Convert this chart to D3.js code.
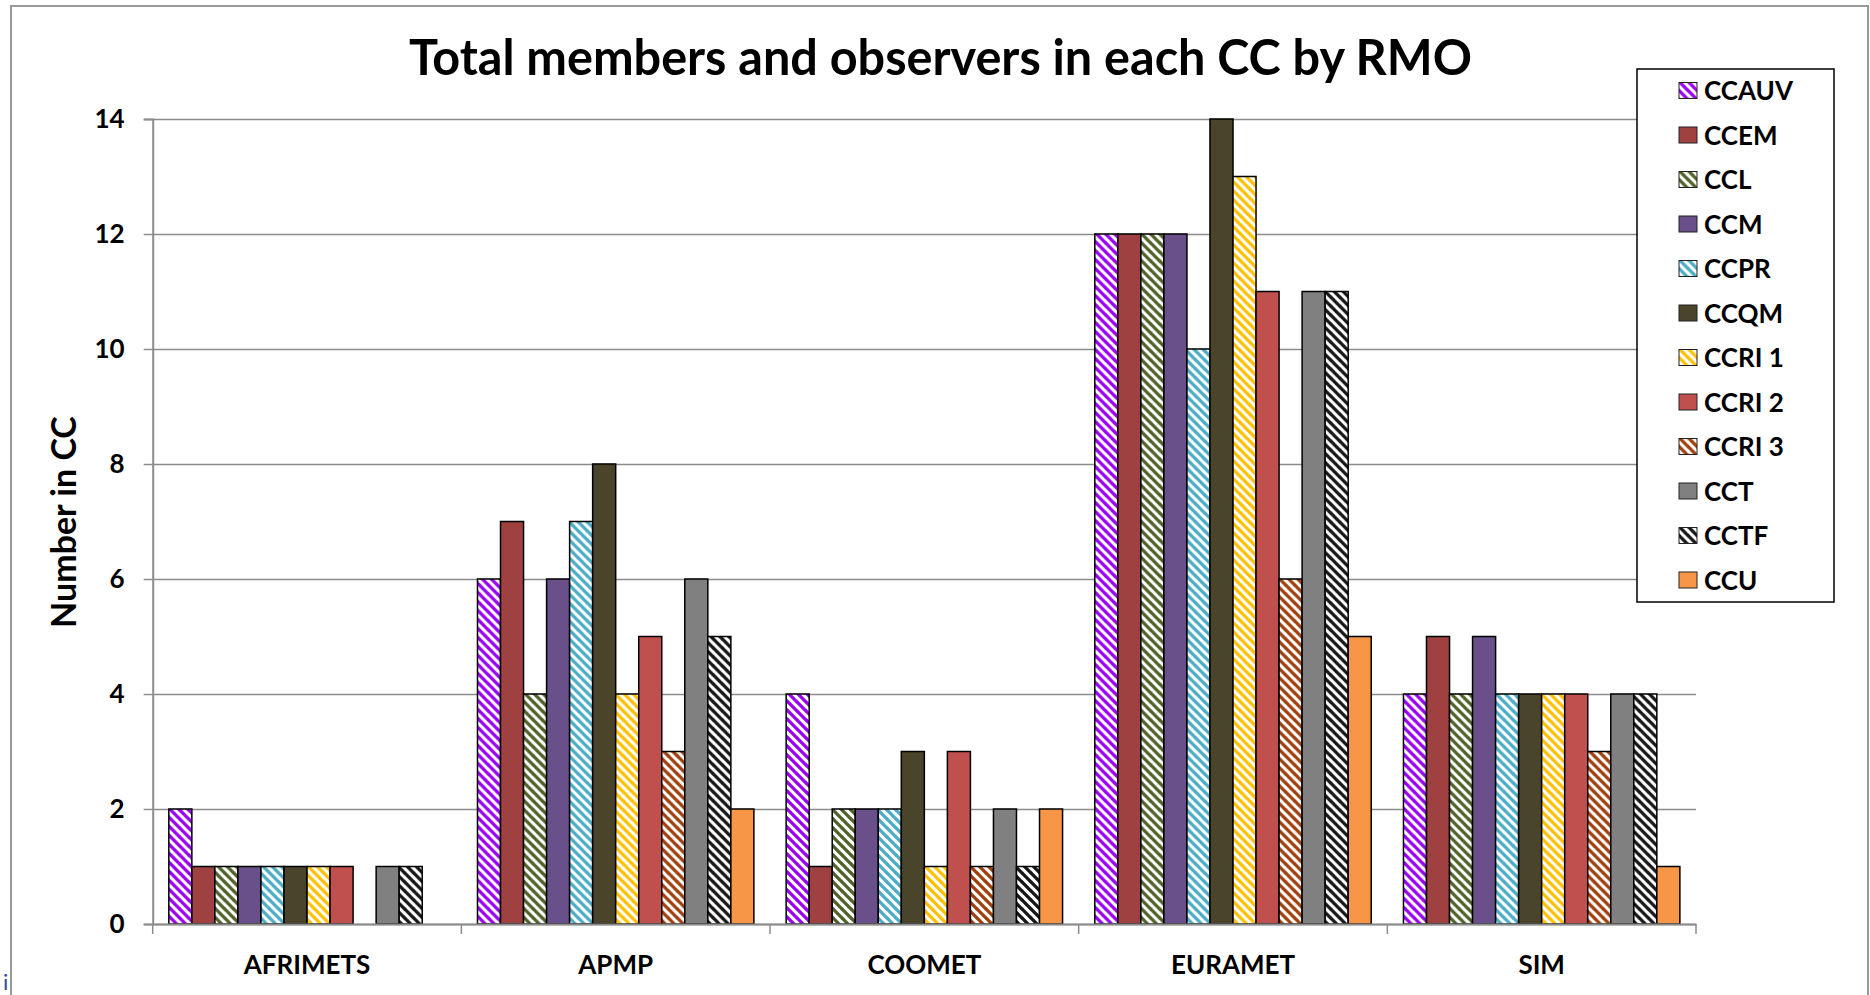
<!DOCTYPE html>
<html>
<head>
<meta charset="utf-8">
<script src="https://cdn.jsdelivr.net/npm/d3@7"></script>
<style>
  body { margin: 0; background: #fff; }
  svg { display: block; }
  text { font-family: Lato, "Open Sans", sans-serif; font-weight: bold; fill: #000; }
</style>
</head>
<body>
<svg id="chart" width="1870" height="995"></svg>
<script>
// data
const regions = ['AFRIMETS', 'APMP', 'COOMET', 'EURAMET', 'SIM'];
const committees = ['CCAUV', 'CCEM', 'CCL', 'CCM', 'CCPR', 'CCQM', 'CCRI 1', 'CCRI 2', 'CCRI 3', 'CCT', 'CCTF', 'CCU'];
const afrimets = [2, 1, 1, 1, 1, 1, 1, 1, 0, 1, 1, 0];
const apmp     = [6, 7, 4, 6, 7, 8, 4, 5, 3, 6, 5, 2];
const coomet   = [4, 1, 2, 2, 2, 3, 1, 3, 1, 2, 1, 2];
const euramet  = [12, 12, 12, 12, 10, 14, 13, 11, 6, 11, 11, 5];
const sim      = [4, 5, 4, 5, 4, 4, 4, 4, 3, 4, 4, 1];
const yTicks = [0, 2, 4, 6, 8, 10, 12, 14];

// colour + whether the committee is drawn hatched
const fills = {
  'CCAUV':  { c: '#9a00f2', hatch: true },
  'CCEM':   { c: '#9e4140', hatch: false },
  'CCL':    { c: '#4f6228', hatch: true },
  'CCM':    { c: '#69508a', hatch: false },
  'CCPR':   { c: '#4bacc6', hatch: true },
  'CCQM':   { c: '#4a442a', hatch: false },
  'CCRI 1': { c: '#ffc000', hatch: true },
  'CCRI 2': { c: '#c0504d', hatch: false },
  'CCRI 3': { c: '#a0400c', hatch: true },
  'CCT':    { c: '#808080', hatch: false },
  'CCTF':   { c: '#161616', hatch: true },
  'CCU':    { c: '#f79646', hatch: false }
};

const table = [afrimets, apmp, coomet, euramet, sim].map((vals, i) => ({
  region: regions[i],
  values: committees.map((k, j) => ({ key: k, value: vals[j] }))
}));

const svg = d3.select('#chart');
const plot = { left: 152.7, right: 1696, top: 119, bottom: 924 };

// outer frame of the chart object
svg.append('rect')
  .attr('x', 11).attr('y', 6)
  .attr('width', 1857).attr('height', 1010)
  .attr('fill', '#fff')
  .attr('stroke', '#9a9a9a')
  .attr('stroke-width', 2);

// hatch patterns
const defs = svg.append('defs');
const s = 9;
const pid = k => 'hatch-' + k.replace(/\s/g, '');
committees.filter(k => fills[k].hatch).forEach(k => {
  const p = defs.append('pattern')
    .attr('id', pid(k))
    .attr('patternUnits', 'userSpaceOnUse')
    .attr('width', s).attr('height', s);
  p.append('rect').attr('width', s).attr('height', s).attr('fill', '#fff');
  p.append('path')
    .attr('d', `M-1,-1L${s + 1},${s + 1}M-1,${s - 1}L1,${s + 1}M${s - 1},-1L${s + 1},1`)
    .attr('stroke', fills[k].c)
    .attr('stroke-width', 3.3);
});
const fillOf = k => fills[k].hatch ? `url(#${pid(k)})` : fills[k].c;

const x0 = d3.scaleBand().domain(regions).range([plot.left, plot.right]);
const x1 = d3.scaleBand().domain(committees).range([0, x0.bandwidth()])
  .paddingInner(0).paddingOuter(0.7);
const y = d3.scaleLinear().domain([0, 14]).range([plot.bottom, plot.top]);

// gridlines
const grid = svg.append('g')
  .attr('transform', `translate(${plot.left},0)`)
  .call(d3.axisLeft(y).tickValues(yTicks).tickSize(-(plot.right - plot.left)).tickFormat(''));
grid.select('.domain').remove();
grid.selectAll('line').attr('stroke', '#8c8c8c').attr('stroke-width', 1.5);

// y axis with labels
const yAxisG = svg.append('g')
  .attr('transform', `translate(${plot.left},0)`)
  .call(d3.axisLeft(y).tickValues(yTicks).tickSize(9).tickPadding(19));
yAxisG.select('.domain').attr('stroke', '#8c8c8c').attr('stroke-width', 2);
yAxisG.selectAll('line').attr('stroke', '#8c8c8c').attr('stroke-width', 1.5);
yAxisG.selectAll('text')
  .style('font-family', 'Lato, sans-serif')
  .style('font-weight', 'bold')
  .style('font-size', '26px')
  .attr('fill', '#000');

// bars
const groups = svg.append('g').selectAll('g')
  .data(table)
  .join('g')
  .attr('transform', d => `translate(${x0(d.region)},0)`);

groups.selectAll('rect')
  .data(d => d.values.filter(v => v.value > 0))
  .join('rect')
  .attr('x', d => x1(d.key))
  .attr('y', d => y(d.value))
  .attr('width', x1.bandwidth())
  .attr('height', d => y(0) - y(d.value))
  .attr('fill', d => fillOf(d.key))
  .attr('stroke', '#000')
  .attr('stroke-width', 1.5);

// x axis: ticks on category boundaries, labels centred
const xAxisG = svg.append('g')
  .attr('transform', `translate(0,${plot.bottom})`)
  .call(d3.axisBottom(x0).tickSize(0));
xAxisG.select('.domain').attr('stroke', '#8c8c8c').attr('stroke-width', 2);
xAxisG.selectAll('text')
  .attr('y', 50).attr('dy', 0)
  .style('font-family', 'Lato, sans-serif')
  .style('font-weight', 'bold')
  .style('font-size', '26px')
  .attr('fill', '#000');
const bounds = regions.map(r => x0(r)).concat([plot.right]);
xAxisG.selectAll('.bound')
  .data(bounds)
  .join('line')
  .attr('class', 'bound')
  .attr('x1', d => d).attr('x2', d => d)
  .attr('y1', 0).attr('y2', 10)
  .attr('stroke', '#8c8c8c')
  .attr('stroke-width', 1.5);

// title
svg.append('text')
  .attr('x', 409).attr('y', 75)
  .attr('textLength', 1063)
  .attr('lengthAdjust', 'spacingAndGlyphs')
  .style('font-size', '50px')
  .text('Total members and observers in each CC by RMO');

// y label
svg.append('text')
  .attr('transform', 'translate(76,522) rotate(-90)')
  .attr('text-anchor', 'middle')
  .style('font-size', '34px')
  .text('Number in CC');

// legend
const lg = svg.append('g');
lg.append('rect')
  .attr('x', 1637).attr('y', 69)
  .attr('width', 197).attr('height', 533)
  .attr('fill', '#fff')
  .attr('stroke', '#000')
  .attr('stroke-width', 1.5);
const item = lg.selectAll('.item')
  .data(committees)
  .join('g')
  .attr('class', 'item')
  .attr('transform', (d, i) => `translate(1679,${90.5 + i * 44.5})`);
item.append('rect')
  .attr('x', 0).attr('y', -8)
  .attr('width', 18).attr('height', 16)
  .attr('fill', d => fillOf(d))
  .attr('stroke', '#222')
  .attr('stroke-width', 1);
item.append('text')
  .attr('x', 25).attr('y', 9.5)
  .style('font-size', '26px')
  .text(d => d);

// stray glyph at the bottom-left corner of the source image
svg.append('text')
  .attr('x', 3).attr('y', 990)
  .style('font-size', '22px')
  .style('font-weight', 'normal')
  .style('fill', '#2f4a9a')
  .text('i');
</script>
</body>
</html>
